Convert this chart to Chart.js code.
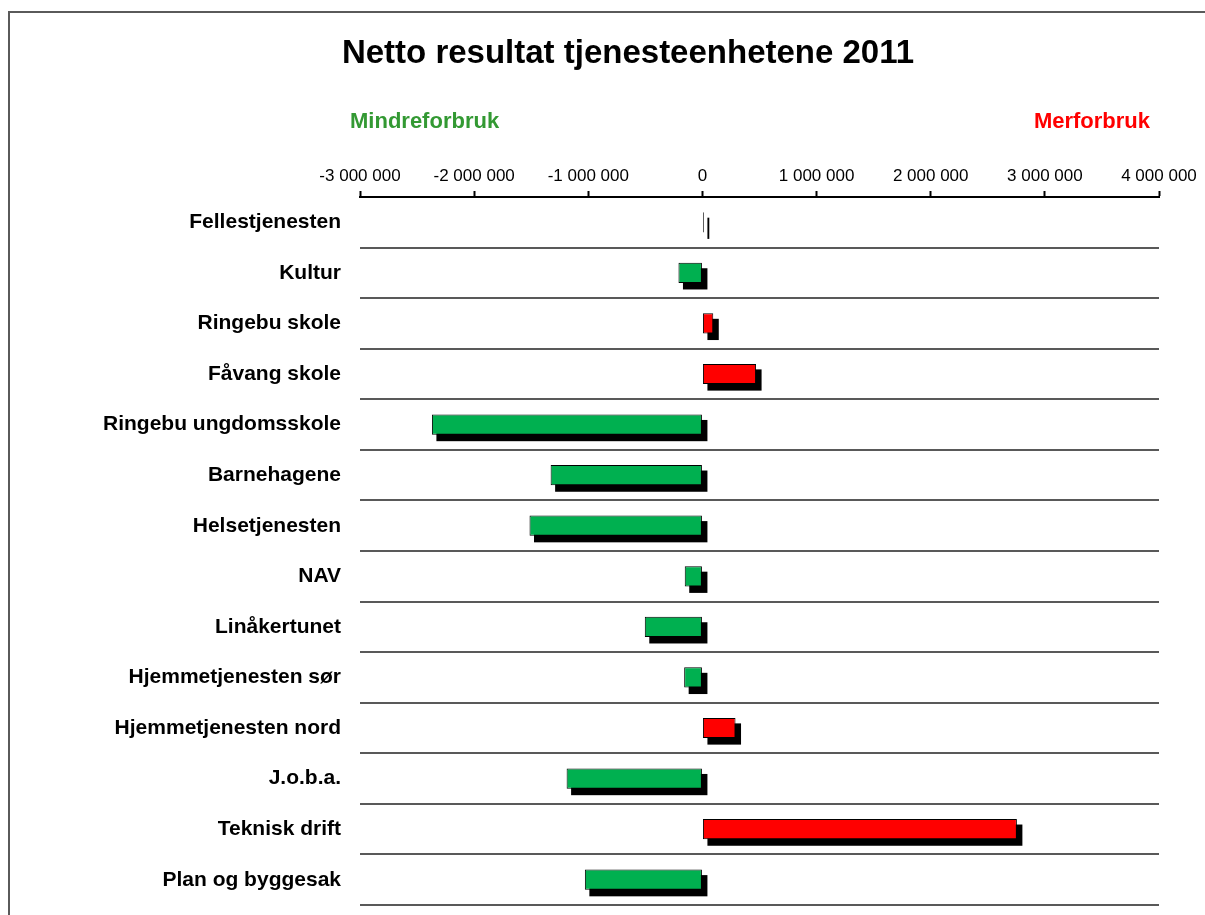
<!DOCTYPE html>
<html>
<head>
<meta charset="utf-8">
<script src="https://cdn.jsdelivr.net/npm/chart.js@4.4.1/dist/chart.umd.min.js"></script>
<style>
  html, body { margin: 0; padding: 0; background: #ffffff; overflow: hidden; }
  #wrap { position: relative; width: 1205px; height: 915px; }
  #frame { position: absolute; left: 8px; top: 11px; width: 1400px; height: 1200px;
           border-left: 2px solid #5a5a5a; border-top: 2px solid #5a5a5a; box-sizing: border-box; }
  canvas { position: absolute; left: 0; top: 0; }
</style>
</head>
<body>
<div id="wrap">
  <div id="frame"></div>
  <canvas id="c" width="1205" height="915"></canvas>
</div>
<script>
const categories = [
  "Fellestjenesten", "Kultur", "Ringebu skole", "Fåvang skole",
  "Ringebu ungdomsskole", "Barnehagene", "Helsetjenesten", "NAV",
  "Linåkertunet", "Hjemmetjenesten sør", "Hjemmetjenesten nord",
  "J.o.b.a.", "Teknisk drift", "Plan og byggesak"
];
const values = [
  12000, -210000, 95000, 470000,
  -2370000, -1330000, -1515000, -155000,
  -505000, -160000, 290000,
  -1190000, 2755000, -1030000
];
const titleText = "Netto resultat tjenesteenhetene 2011";
const leftNote = "Mindreforbruk";
const rightNote = "Merforbruk";
const axisMin = -3000000;
const axisMax = 4000000;
const axisStep = 1000000;

const GREEN = "#00B050";
const RED = "#FF0000";
const barColors = values.map(v => v < 0 ? GREEN : RED);

function fmt(v) {
  const s = Math.abs(Math.round(v)).toString().replace(/\B(?=(\d{3})+(?!\d))/g, " ");
  return (v < 0 ? "-" : "") + s;
}

const shadowPlugin = {
  id: "barShadow",
  beforeDatasetsDraw(chart) {
    const ctx = chart.ctx;
    const meta = chart.getDatasetMeta(0);
    ctx.save();
    ctx.fillStyle = "#000000";
    meta.data.forEach(el => {
      const p = el.getProps(["x", "y", "base", "height"], true);
      const x0 = Math.min(p.x, p.base), x1 = Math.max(p.x, p.base);
      ctx.fillRect(x0 + 5 - 0.5, p.y - p.height / 2 + 6 - 0.5, (x1 - x0) + 1, p.height + 1);
    });
    ctx.restore();
  }
};

const textPlugin = {
  id: "headerTexts",
  afterDraw(chart) {
    const ctx = chart.ctx;
    ctx.save();
    ctx.fillStyle = "#000000";
    ctx.font = "bold 33px 'Liberation Sans', Arial, sans-serif";
    ctx.textAlign = "center";
    ctx.textBaseline = "alphabetic";
    ctx.fillText(titleText, 628, 63);
    ctx.font = "bold 22px 'Liberation Sans', Arial, sans-serif";
    ctx.fillStyle = "#339933";
    ctx.textAlign = "left";
    ctx.fillText(leftNote, 350, 128);
    ctx.fillStyle = "#FF0000";
    ctx.textAlign = "right";
    ctx.fillText(rightNote, 1150, 128);
    ctx.restore();
  }
};

new Chart(document.getElementById("c"), {
  type: "bar",
  data: {
    labels: categories,
    datasets: [{
      data: values,
      backgroundColor: barColors,
      borderColor: "#000000",
      borderWidth: 1,
      borderSkipped: false,
      barPercentage: 0.4,
      categoryPercentage: 1.0
    }]
  },
  options: {
    indexAxis: "y",
    responsive: false,
    animation: false,
    devicePixelRatio: 1,
    layout: { padding: { left: 0, right: 46, top: 0, bottom: 10 } },
    plugins: {
      legend: { display: false },
      tooltip: { enabled: false },
      title: { display: false }
    },
    scales: {
      x: {
        position: "top",
        min: axisMin,
        max: axisMax,
        ticks: {
          stepSize: axisStep,
          color: "#000000",
          font: { family: "'Liberation Sans', Arial, sans-serif", size: 17 },
          padding: 4,
          maxRotation: 0,
          callback: v => fmt(v)
        },
        grid: {
          drawOnChartArea: false,
          drawTicks: true,
          tickLength: 6,
          tickWidth: 2,
          tickColor: "#000000"
        },
        border: { display: true, color: "#000000", width: 2 },
        afterFit(scale) { scale.height = 197; }
      },
      y: {
        position: "left",
        offset: true,
        ticks: {
          color: "#000000",
          font: { family: "'Liberation Sans', Arial, sans-serif", size: 21, weight: "bold" },
          padding: 19
        },
        grid: {
          offset: true,
          drawOnChartArea: true,
          drawTicks: false,
          color: "#595959",
          lineWidth: 2
        },
        border: { display: false },
        afterFit(scale) {
          scale.width = 360;
          scale.paddingTop = 0;
          scale.paddingBottom = 0;
        }
      }
    }
  },
  plugins: [shadowPlugin, textPlugin]
});
</script>
</body>
</html>
